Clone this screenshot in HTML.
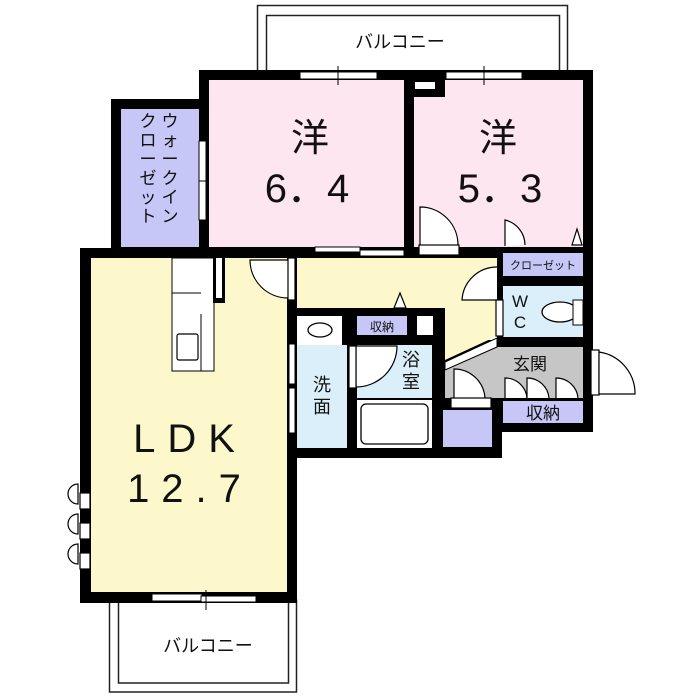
<!DOCTYPE html>
<html><head><meta charset="utf-8"><style>
html,body{margin:0;padding:0;background:#fff;}
svg{display:block}
text{font-family:"Liberation Sans","Noto Sans CJK JP",sans-serif;fill:#111}
</style></head><body>
<svg width="700" height="700" viewBox="0 0 700 700" xmlns="http://www.w3.org/2000/svg">
<rect width="700" height="700" fill="#fff"/>
<!-- top balcony -->
<rect x="257.5" y="5.5" width="310" height="70" fill="none" stroke="#222" stroke-width="1.5"/>
<rect x="266.5" y="15.5" width="293" height="60" fill="none" stroke="#222" stroke-width="1.5"/>
<text x="400" y="48" font-size="18" text-anchor="middle">バルコニー</text>
<!-- bottom balcony -->
<rect x="109.5" y="600" width="187" height="92" fill="none" stroke="#222" stroke-width="1.5"/>
<rect x="118.5" y="600" width="170" height="83" fill="none" stroke="#222" stroke-width="1.5"/>
<text x="208" y="652" font-size="18" text-anchor="middle">バルコニー</text>

<!-- black base walls -->
<rect x="199" y="70" width="394" height="188" fill="#000"/>
<rect x="111" y="99" width="98" height="159" fill="#000"/>
<rect x="80" y="248" width="217" height="355" fill="#000"/>
<rect x="287" y="248" width="222" height="70" fill="#000"/>
<rect x="497" y="248" width="96" height="184" fill="#000"/>
<rect x="288" y="308" width="157" height="150" fill="#000"/>
<rect x="435" y="340" width="67" height="118" fill="#000"/>

<!-- rooms -->
<rect x="209" y="80" width="195" height="167" fill="#fde6ef"/>
<rect x="414" y="97" width="169" height="150" fill="#fde6ef"/>
<rect x="445" y="80" width="138" height="17" fill="#fde6ef"/>
<rect x="415" y="82" width="20" height="7" fill="#fff"/>
<rect x="121" y="109" width="78" height="138" fill="#c7c7f7"/>
<rect x="91" y="258" width="196" height="334" fill="#fdf8cc"/>
<polygon points="297,258 497,258 497,336 445,360 445,308 297,308" fill="#fdf8cc"/>
<rect x="503" y="253" width="80" height="23" fill="#c7c7f7"/>
<rect x="503" y="286" width="80" height="51" fill="#dbeffa"/>
<polygon points="445,370 497,347 583,347 583,398 445,398" fill="#c6c6c6"/>
<polygon points="445,362 497,338 497,347 445,370" fill="#fff" stroke="#000" stroke-width="1"/>
<rect x="503" y="401" width="80" height="22" fill="#c7c7f7"/>
<rect x="443" y="410" width="49" height="37" fill="#c7c7f7"/>
<rect x="297" y="316" width="45" height="29" fill="#fff"/>
<ellipse cx="320" cy="330" rx="12" ry="7" fill="#fff" stroke="#000" stroke-width="1.3"/>
<rect x="297" y="345" width="50" height="103" fill="#dbeffa"/>
<rect x="357" y="316" width="50" height="19" fill="#c7c7f7"/>
<rect x="417" y="316" width="16" height="19" fill="#fff"/>
<rect x="357" y="345" width="75" height="53" fill="#dbeffa"/>
<rect x="357" y="400" width="75" height="48" fill="#fff"/>
<rect x="361" y="404" width="67" height="40" rx="5" fill="#fff" stroke="#000" stroke-width="1.3"/>

<!-- kitchen counter -->
<rect x="172" y="258" width="42" height="113" fill="#fff" stroke="#000" stroke-width="1"/>
<line x1="172" y1="293" x2="201" y2="293" stroke="#000"/>
<line x1="201" y1="314" x2="201" y2="371" stroke="#000"/>
<rect x="177" y="334" width="21" height="26" rx="2" fill="#fff" stroke="#000" stroke-width="1.2"/>
<rect x="213" y="256" width="12" height="47" fill="#000"/>
<rect x="216" y="258" width="6" height="40" fill="#fff"/>

<!-- windows -->
<g fill="#fff" stroke="#000" stroke-width="1">
<rect x="300" y="72" width="77" height="7"/>
<rect x="446" y="72" width="76" height="7"/>
<rect x="152" y="594" width="50" height="7"/>
<rect x="201" y="596" width="55" height="6"/>
<rect x="199" y="141" width="7" height="40"/>
<rect x="199" y="181" width="7" height="39"/>
<rect x="315" y="247" width="45" height="5"/>
<rect x="360" y="250" width="44" height="6"/>
<rect x="289" y="344" width="6" height="40"/>
<rect x="289" y="388" width="6" height="45"/>
</g>
<line x1="338" y1="66" x2="338" y2="85" stroke="#000"/>
<line x1="484" y1="66" x2="484" y2="85" stroke="#000"/>
<line x1="206" y1="590" x2="206" y2="610" stroke="#000"/>

<!-- doors -->
<g fill="#fff" stroke="#000" stroke-width="1.2">
<path d="M420,248 V207 A38,38 0 0 1 458,245"/>
<rect x="419" y="245" width="40" height="10"/>
<path d="M505,246 V220 A26,26 0 0 1 525,245"/>
<polygon points="572,245 577,229 582,245"/>
<path d="M288,260 H250 A38,38 0 0 0 288,298"/>
<rect x="288" y="258" width="7" height="42"/>
<polygon points="394,308 400,293 406,308"/>
<path d="M497,300 H462 A35,35 0 0 1 497,267"/>
<rect x="496" y="300" width="7" height="36"/>
<path d="M356,387 V346 H397 A41,41 0 0 1 356,387"/>
<rect x="349" y="346" width="7" height="42"/>
<path d="M454,398 V369 A31,31 0 0 1 485,398"/>
<rect x="451" y="398" width="40" height="10"/>
<path d="M505,398 V378 A22,22 0 0 1 527,398"/>
<path d="M527,398 V378 A22,22 0 0 1 549,398"/>
<path d="M556,398 V378 A22,22 0 0 1 578,398"/>
<rect x="591" y="350" width="8" height="45"/>
<path d="M599,352 A42,42 0 0 1 635,394 H599 Z"/>
<path d="M68,494 A10,10 0 0 1 78,484 V504 A10,10 0 0 1 68,494"/>
<path d="M68,524 A10,10 0 0 1 78,514 V534 A10,10 0 0 1 68,524"/>
<path d="M68,554 A10,10 0 0 1 78,544 V564 A10,10 0 0 1 68,554"/>
<rect x="80" y="493" width="10" height="16"/>
<rect x="80" y="523" width="10" height="16"/>
<rect x="80" y="553" width="10" height="16"/>
</g>
<ellipse cx="560" cy="312" rx="18" ry="10" fill="#fff" stroke="#000" stroke-width="1.3"/>
<rect x="573" y="300" width="10" height="25" fill="#fff" stroke="#000"/>

<!-- labels -->
<text x="310" y="151" font-size="38" text-anchor="middle">洋</text>
<text x="307" y="202" font-size="40" text-anchor="middle">6．4</text>
<text x="498" y="151" font-size="38" text-anchor="middle">洋</text>
<text x="500" y="202" font-size="40" text-anchor="middle">5．3</text>
<text x="190" y="452" font-size="40" text-anchor="middle" letter-spacing="12">LDK</text>
<text x="190" y="502" font-size="40" text-anchor="middle" letter-spacing="12">12.7</text>
<g font-size="17" text-anchor="middle">
<text x="170" y="127">ウ</text><text x="170" y="146">ォ</text><text x="170" y="165">ー</text><text x="170" y="184">ク</text><text x="170" y="203">イ</text><text x="170" y="222">ン</text>
<text x="148" y="127">ク</text><text x="148" y="146">ロ</text><text x="148" y="165">ー</text><text x="148" y="184">ゼ</text><text x="148" y="203">ッ</text><text x="148" y="222">ト</text>
</g>
<text x="543" y="269" font-size="11" text-anchor="middle">クローゼット</text>
<text x="520" y="307" font-size="17" text-anchor="middle">W</text>
<text x="520" y="328" font-size="17" text-anchor="middle">C</text>
<text x="382" y="331" font-size="12" text-anchor="middle">収納</text>
<text x="322" y="391" font-size="18" text-anchor="middle">洗</text>
<text x="322" y="413" font-size="18" text-anchor="middle">面</text>
<text x="411" y="366" font-size="18" text-anchor="middle">浴</text>
<text x="411" y="388" font-size="18" text-anchor="middle">室</text>
<text x="530" y="370" font-size="17" text-anchor="middle">玄関</text>
<text x="543" y="419" font-size="17" text-anchor="middle">収納</text>
</svg>
</body></html>
